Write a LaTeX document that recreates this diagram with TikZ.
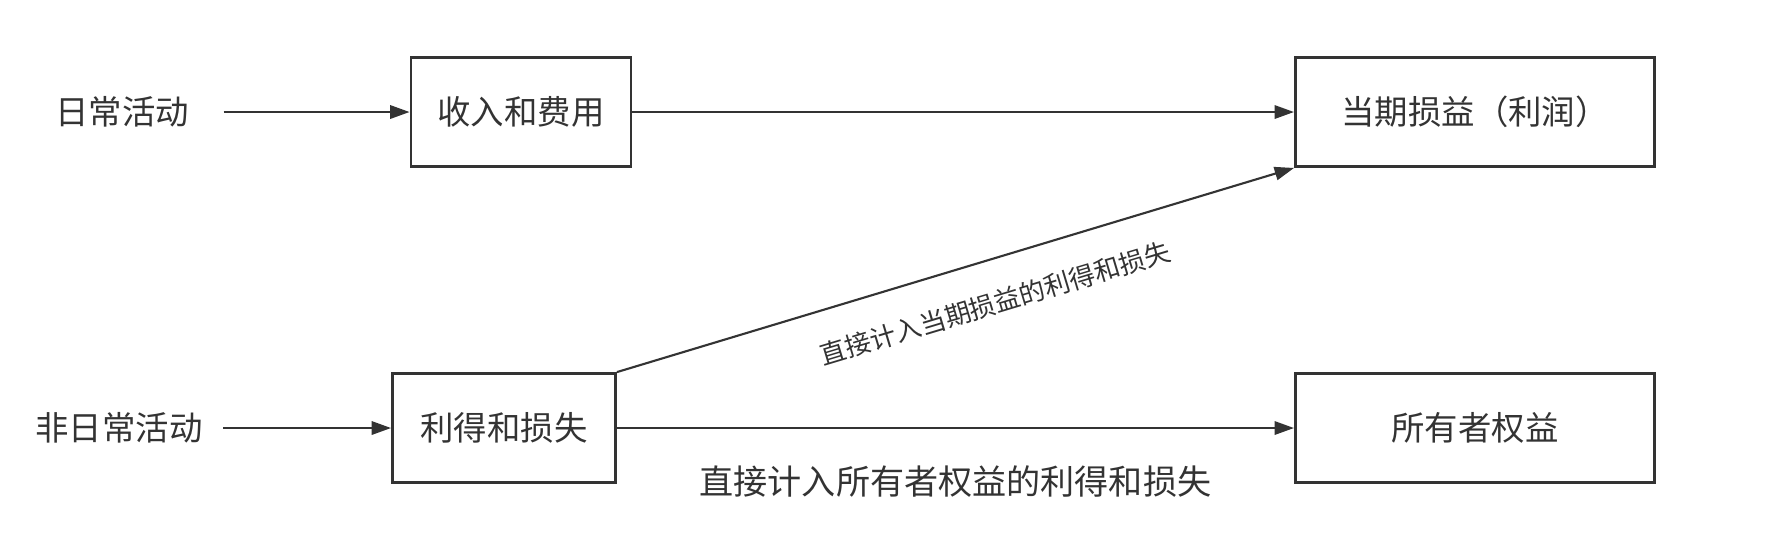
\documentclass[tikz,border=0pt]{standalone}
\usepackage{fontspec}
\setmainfont{Noto Sans CJK SC}
\usepackage{xcolor}
\definecolor{lineGray}{RGB}{51, 51, 51}
\usetikzlibrary{arrows.meta, positioning}

\begin{document}
\begin{tikzpicture}[
    x=0.01cm, y=-0.01cm,
    >={Triangle[length=5.5pt, width=3.8pt]},
    box/.style={draw=lineGray, line width=0.8pt, minimum width=2.2cm, minimum height=1.09cm,
        inner sep=0pt, text=lineGray, font=\fontsize{9.5}{11}\selectfont},
    widebox/.style={box, minimum width=3.59cm},
    source/.style={inner sep=0pt, text=lineGray, font=\fontsize{9.5}{11}\selectfont},
    arrow/.style={->, draw=lineGray, line width=0.6pt}
]
\useasboundingbox (0, 0) rectangle (1766, 556);

% === Origen ===
\node[source] (daily) at (122, 112) {日常活动};
\node[source] (nondaily) at (119, 428) {非日常活动};

% === Cajas ===
\node[box] (income) at (521, 112) {收入和费用};
\node[box, minimum width=2.23cm] (gains) at (504, 428) {利得和损失};
\node[widebox] (profit) at (1475, 112) {当期损益（利润）};
\node[widebox] (equity) at (1475, 428) {所有者权益};

% === Flechas ===
\draw[arrow, shorten <=0.34cm] (daily.east) -- (income.west);
\draw[arrow, shorten <=0.2cm] (nondaily.east) -- (gains.west);
\draw[arrow] (income.east) -- (profit.west);

% ganancias al resultado del periodo
\draw[arrow] (gains.north east) -- node[sloped, below=0.3cm, pos=0.54, inner sep=0pt, text=lineGray,
    font=\fontsize{7.4}{9}\selectfont] (toprofit) {直接计入当期损益的利得和损失} (profit.south west);

% ganancias al patrimonio
\draw[arrow] (gains.east) -- node[below=0.37cm, inner sep=0pt, text=lineGray,
    font=\fontsize{9.7}{12}\selectfont] (toequity) {直接计入所有者权益的利得和损失} (equity.west);

\end{tikzpicture}
\end{document}
